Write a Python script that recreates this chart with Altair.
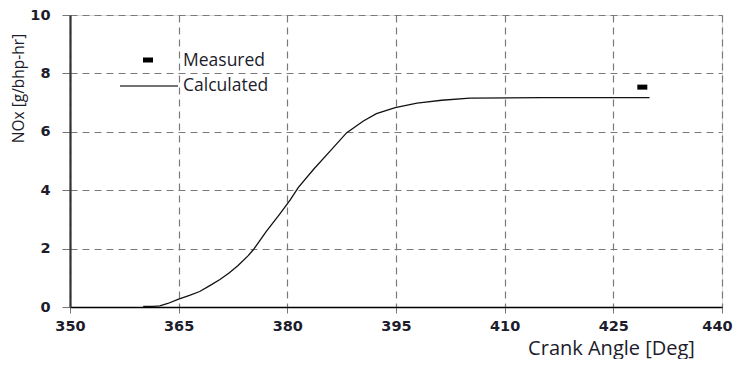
import altair as alt
import pandas as pd

# Calculated NOx curve
calc_angle = [360.1, 361.5, 362.4, 363.5, 365.0, 366.5, 367.9, 369.3, 370.7, 372.0,
              373.2, 374.6, 375.3, 377.1, 379.0, 380.4, 381.5, 383.6, 385.9, 388.2,
              390.5, 392.3, 394.9, 397.9, 398.5, 401.3, 405.2, 415.0, 430.0]
calc_nox = [0.02, 0.02, 0.04, 0.12, 0.27, 0.40, 0.53, 0.73, 0.94, 1.17,
            1.42, 1.76, 1.96, 2.59, 3.20, 3.67, 4.09, 4.71, 5.34, 5.97,
            6.37, 6.62, 6.83, 6.98, 7.00, 7.08, 7.15, 7.17, 7.17]

# Measured value
meas_angle = [429.0]
meas_nox = [7.53]

legend_labels = ["Measured", "Calculated"]
x_ticks = [350, 365, 380, 395, 410, 425, 440]
y_ticks = [0, 2, 4, 6, 8, 10]

calc_df = pd.DataFrame({"angle": calc_angle, "nox": calc_nox})
meas_df = pd.DataFrame({"angle": meas_angle, "nox": meas_nox})
one = pd.DataFrame({"k": [0]})

FONT = "Open Sans"
TXT = "#1c1c2c"
RECT = "M-1,-0.5L1,-0.5L1,0.5L-1,0.5Z"

xscale = alt.Scale(domain=[350, 440], nice=False, zero=False)
yscale = alt.Scale(domain=[0, 10], nice=False)

xaxis = alt.Axis(values=x_ticks, title="Crank Angle [Deg]", grid=True,
                 gridDash=[7, 5], gridColor="#7a7a7a", gridWidth=1.2,
                 domainColor="#000", domainWidth=1.6, tickColor="#777",
                 tickSize=6, labelPadding=6, labelFlush=False,
                 labelOffset={"condition": {"test": "datum.value >= 440", "value": -5},
                              "value": 0},
                 labelFont="DejaVu Sans", labelFontWeight="bold",
                 labelFontSize=14.5, labelColor=TXT,
                 titleFont=FONT, titleFontSize=20, titleFontWeight="normal",
                 titleColor=TXT, titleX=541, titleY=47,
                 titleAlign="center", titleBaseline="alphabetic")
yaxis = alt.Axis(values=y_ticks, title="NOx [g/bhp-hr]", grid=True,
                 gridDash=[7, 5], gridColor="#7a7a7a", gridWidth=1.2,
                 domainColor="#333", domainWidth=2.2, tickColor="#777",
                 tickSize=8, labelPadding=12, labelFont="DejaVu Sans",
                 labelFontWeight="bold", labelFontSize=14.5, labelColor=TXT,
                 titleFont=FONT, titleFontSize=15.5, titleFontWeight="normal",
                 titleColor=TXT, titleX=-52, titleY=73,
                 titleAngle=-90, titleAlign="center", titleBaseline="middle")

line = alt.Chart(calc_df).mark_line(color="#111", strokeWidth=1.3).encode(
    x=alt.X("angle:Q", scale=xscale, axis=xaxis),
    y=alt.Y("nox:Q", scale=yscale, axis=yaxis),
    order="angle:Q",
)

meas = alt.Chart(meas_df).mark_point(shape=RECT, size=100, filled=True,
                                     color="#000", opacity=1).encode(
    x=alt.X("angle:Q", scale=xscale),
    y=alt.Y("nox:Q", scale=yscale),
)

leg_sym = alt.Chart(one).mark_point(shape=RECT, size=100, filled=True,
                                    color="#000", opacity=1).encode(
    x=alt.value(78), y=alt.value(45))
leg_line = alt.Chart(one).mark_rule(color="#444", strokeWidth=1.3).encode(
    x=alt.value(50), x2=alt.value(108), y=alt.value(71))
leg_t1 = alt.Chart(one).mark_text(align="left", baseline="middle", font=FONT,
                                  fontSize=17.5, color=TXT).encode(
    x=alt.value(113), y=alt.value(46), text=alt.value(legend_labels[0]))
leg_t2 = alt.Chart(one).mark_text(align="left", baseline="middle", font=FONT,
                                  fontSize=17.5, color=TXT).encode(
    x=alt.value(113), y=alt.value(71), text=alt.value(legend_labels[1]))

chart = alt.layer(line, meas, leg_sym, leg_line, leg_t1, leg_t2).properties(
    width=652, height=292,
    autosize=alt.AutoSizeParams(type="none"),
    padding={"left": 62, "top": 7, "right": 11, "bottom": 52},
).configure_view(stroke="#444", strokeWidth=1.3).configure(background="white")

chart.save("out.html", embed_options={"renderer": "svg", "actions": False})
